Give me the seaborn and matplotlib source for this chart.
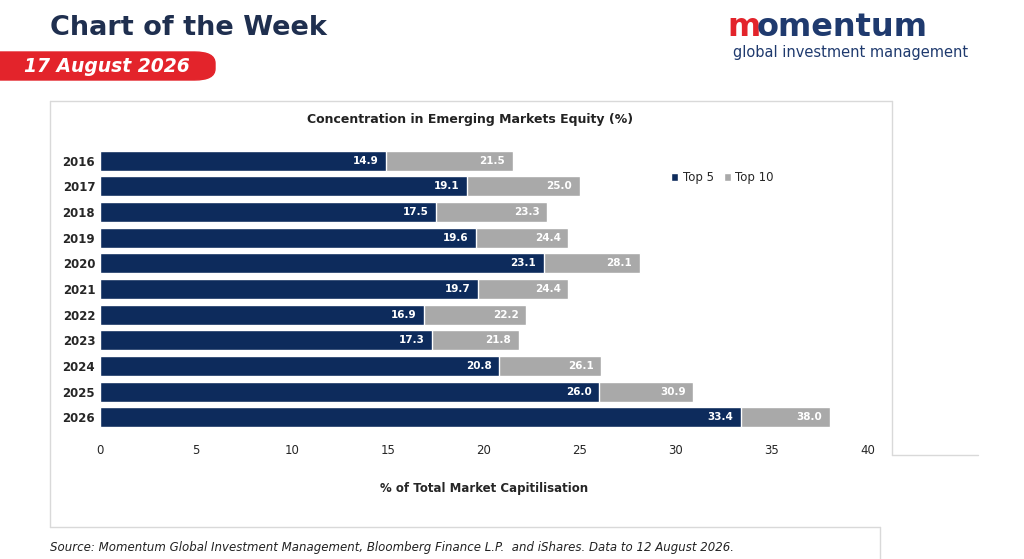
import matplotlib
matplotlib.use("Agg")
import matplotlib.pyplot as plt
import seaborn as sns
import pandas as pd
from matplotlib.patches import FancyBboxPatch

years = ["2016","2017","2018","2019","2020","2021","2022","2023","2024","2025","2026"]
top5 = [14.9,19.1,17.5,19.6,23.1,19.7,16.9,17.3,20.8,26.0,33.4]
top10 = [21.5,25.0,23.3,24.4,28.1,24.4,22.2,21.8,26.1,30.9,38.0]
xticks = [0,5,10,15,20,25,30,35,40]

navy = "#0d2b5c"
gray = "#a9a9a9"
red = "#e3242b"
sns.set_theme(style="white")
plt.rcParams['font.family'] = ['DejaVu Sans']

df = pd.DataFrame({"year": years, "top5": top5, "top10": top10})
fig = plt.figure(figsize=(10.24, 5.59), dpi=100)
W, H = 1024, 559
def fx(x): return x / W
def fy(y): return 1 - y / H

lc = "#d9d9d9"
for (x0, y0, x1, y1) in [(50,101,892,101),(892,101,892,455),(892,455,978,455),(50,101,50,527),(50,527,880,527),(880,527,880,559)]:
    fig.add_artist(plt.Line2D([fx(x0), fx(x1)], [fy(y0), fy(y1)], color=lc, lw=1))

ax = fig.add_axes([fx(100), fy(430), fx(868) - fx(100), fy(148) - fy(430)])
sns.barplot(data=df, y="year", x="top10", color=gray, orient="h", width=0.78, ax=ax, label="Top 10", saturation=1)
sns.barplot(data=df, y="year", x="top5", color=navy, orient="h", width=0.78, ax=ax, label="Top 5", saturation=1)
for i, (a, b) in enumerate(zip(top5, top10)):
    ax.text(a - 0.4, i, f"{a:.1f}", color="white", fontsize=7.5, fontweight="bold", ha="right", va="center")
    ax.text(b - 0.4, i, f"{b:.1f}", color="white", fontsize=7.5, fontweight="bold", ha="right", va="center")
ax.set_xlim(0, 40)
ax.set_xticks(xticks)
ax.tick_params(axis="both", length=0, labelsize=8.5)
ax.tick_params(axis="x", pad=10)
for t in ax.get_yticklabels():
    t.set_fontweight("bold")
ax.set_ylabel("")
ax.set_xlabel("% of Total Market Capitilisation", fontsize=8.5, fontweight="bold", labelpad=18)
for s in ax.spines.values():
    s.set_visible(False)
h, l = ax.get_legend_handles_labels()
ax.legend(h[::-1], l[::-1], loc="upper left", bbox_to_anchor=(0.73, 0.955), frameon=False,
          fontsize=8.5, ncol=2, handlelength=0.6, handleheight=0.6, columnspacing=0.8, handletextpad=0.4)

fig.text(fx(470), fy(119), "Concentration in Emerging Markets Equity (%)", ha="center", va="center",
         fontsize=9, fontweight="bold", color="#222222")

fig.text(fx(50), fy(28), "Chart of the Week", fontsize=19.5, fontweight="bold", color="#1f2f4f", va="center")
fig.add_artist(FancyBboxPatch((fx(-20), fy(80)), fx(235), fy(52) - fy(80),
                              boxstyle="round,pad=0,rounding_size=0.02", color=red, transform=fig.transFigure))
fig.text(fx(24), fy(66), "17 August 2026", fontsize=13.5, fontweight="bold", style="italic", color="white", va="center")
fig.text(fx(727), fy(27), "m", fontsize=23, fontweight="bold", color=red, va="center")
fig.text(fx(757), fy(27), "omentum", fontsize=23, fontweight="bold", color="#1f3a6e", va="center")
fig.text(fx(733), fy(53), "global investment management", fontsize=10.5, color="#1f3a6e", va="center")

fig.text(fx(50), fy(548), "Source: Momentum Global Investment Management, Bloomberg Finance L.P.  and iShares. Data to 12 August 2026.",
         fontsize=8.5, style="italic", color="#222222", va="center")

fig.savefig("out.png", dpi=100)
